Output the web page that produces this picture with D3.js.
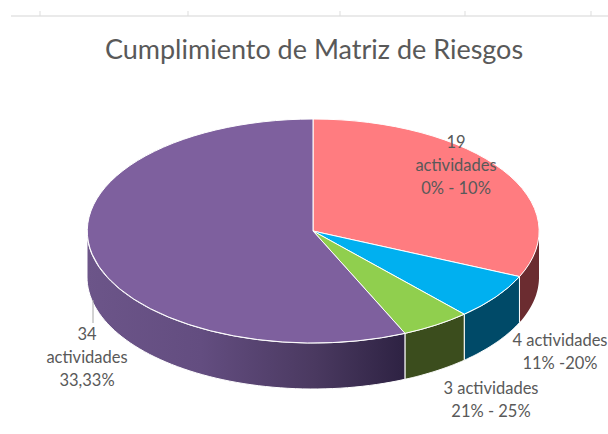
<!DOCTYPE html>
<html>
<head>
<meta charset="utf-8">
<script src="https://cdn.jsdelivr.net/npm/d3@7"></script>
<style>
html,body{margin:0;padding:0;background:#fff;}
svg{display:block;}
text{font-family:Lato,"Open Sans",sans-serif;fill:#595959;}
</style>
</head>
<body>
<div id="chart"></div>
<script>
var title = "Cumplimiento de Matriz de Riesgos";
var counts = [19, 4, 3, 34];
var topColors = ["#ff7c80", "#00b0f0", "#90cf4e", "#7e609e"];
var sideColors = ["#6b2c30", "#004a68", "#3b4d1d", "#000000"];
var sliceLabels = [
	["19", "actividades", "0% - 10%"],
	["4 actividades", "11% -20%"],
	["3 actividades", "21% - 25%"],
	["34", "actividades", "33,33%"]
];
var rulerTicks = [40, 188, 340, 465, 591];

var width = 608, height = 434;
var cx = 313, cy = 231, rx = 226, ry = 112, depth = 46;
var labelPos = [[456, 148], [560, 346], [491, 394], [87, 340]];

var svg = d3.select("#chart").append("svg").attr("width", width).attr("height", height);

//ruler at the top of the sheet
var ruler = svg.append("g");
ruler.append("line").attr("x1", 11).attr("x2", 608).attr("y1", 16).attr("y2", 16)
	.attr("stroke", "#e3e3e3").attr("stroke-width", 1.5);
ruler.selectAll("line.tick").data(rulerTicks).enter().append("line").classed("tick", true)
	.attr("x1", function(d){return d}).attr("x2", function(d){return d})
	.attr("y1", 11).attr("y2", 16).attr("stroke", "#dddddd");

svg.append("text").attr("x", 314).attr("y", 59).attr("text-anchor", "middle")
	.style("font-size", "27px").text(title);

//purple wall fades from mid purple on the left to near black at the front
var defs = svg.append("defs");
var grad = defs.append("linearGradient").attr("id", "purpleSide").attr("gradientUnits", "userSpaceOnUse")
	.attr("x1", cx - rx).attr("x2", cx + 100).attr("y1", 0).attr("y2", 0);
grad.append("stop").attr("offset", "0%").attr("stop-color", "#6c5589");
grad.append("stop").attr("offset", "35%").attr("stop-color", "#634d80");
grad.append("stop").attr("offset", "70%").attr("stop-color", "#4a3960");
grad.append("stop").attr("offset", "100%").attr("stop-color", "#2b2040");

var pie = d3.pie().sort(null).value(function(d){return d});
var slices = pie(counts);

//angle measured clockwise from 12 o'clock, flattened onto the ellipse
function px(a){return cx + rx*Math.sin(a)}
function py(a){return cy - ry*Math.cos(a)}

var line = d3.line();

//outer wall of a slice, only the part facing the viewer (PI/2 .. 3PI/2)
function wall(d){
	var a0 = Math.max(d.startAngle, Math.PI/2), a1 = Math.min(d.endAngle, 3*Math.PI/2);
	if(a1 <= a0){return null}
	var angles = d3.range(0, 61).map(function(i){return a0 + (a1-a0)*i/60});
	var front = angles.map(function(a){return [px(a), py(a)]});
	var back = angles.slice().reverse().map(function(a){return [px(a), py(a)+depth]});
	return line(front.concat(back)) + "Z";
}

var walls = svg.append("g");
walls.selectAll("path").data(slices).enter().append("path")
	.attr("d", wall)
	.attr("fill", function(d,i){return i==3 ? "url(#purpleSide)" : sideColors[i]})
	.attr("stroke", function(d,i){return i==0 ? "none" : "#ffffff"})
	.attr("stroke-width", 1);

//leader for the purple label
svg.append("line").attr("x1", 93).attr("x2", 93).attr("y1", 300).attr("y2", 323)
	.attr("stroke", "#a6a6a6").attr("stroke-width", 1);

var arc = d3.arc().innerRadius(0).outerRadius(1);
var tops = svg.append("g").attr("transform", "translate(" + cx + "," + cy + ") scale(" + rx + "," + ry + ")");
tops.selectAll("path").data(slices).enter().append("path")
	.attr("d", arc)
	.attr("fill", function(d,i){return topColors[i]})
	.attr("stroke", "#ffffff").attr("stroke-width", 1)
	.attr("vector-effect", "non-scaling-stroke");

var labels = svg.append("g").selectAll("text").data(sliceLabels).enter().append("text")
	.attr("text-anchor", "middle")
	.attr("transform", function(d,i){return "translate(" + labelPos[i][0] + "," + labelPos[i][1] + ")"})
	.style("font-size", "16.5px");
labels.selectAll("tspan").data(function(d){return d}).enter().append("tspan")
	.attr("x", 0).attr("y", function(d,i){return i*23}).text(function(d){return d});
</script>
</body>
</html>
